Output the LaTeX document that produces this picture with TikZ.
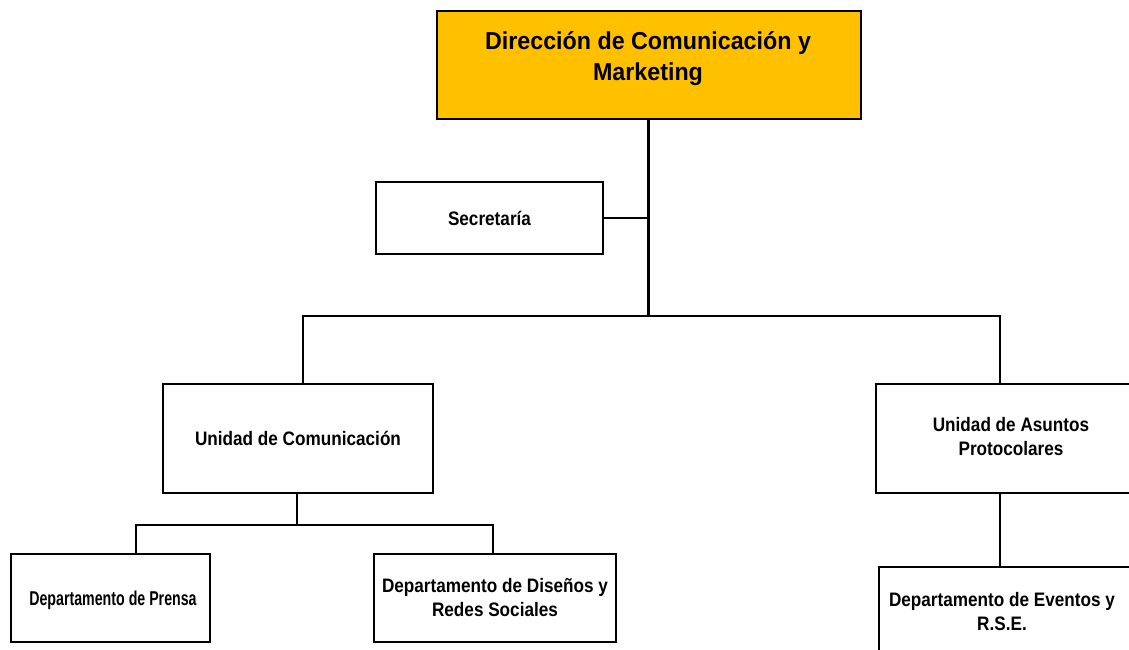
\documentclass[tikz,border=0pt]{standalone}
\usepackage{fontspec}
\setmainfont{Liberation Sans}
\newfontfamily\narrowfont[FakeStretch=0.88]{Liberation Sans}
\newfontfamily\narrowerfont[FakeStretch=0.71]{Liberation Sans}
\newfontfamily\topfont[FakeStretch=0.95]{Liberation Sans}
\definecolor{gold}{HTML}{FFC000}
\begin{document}
\begin{tikzpicture}[x=1pt,y=-1pt,
  box/.style={draw=black,line width=2pt,fill=white,inner sep=0pt,anchor=north west},
  txt/.style={font=\narrowfont\bfseries\fontsize{19.5}{24}\selectfont,align=center},
  conn/.style={line width=1.3pt},
  trunk/.style={line width=3pt}]
\useasboundingbox (0,0) rectangle (1129,649);
\clip (0,0) rectangle (1129,649);
% boxes
\node[box,fill=gold,minimum width=424pt,minimum height=108pt] (dir) at (436,10) {};
\node[font=\topfont\bfseries\fontsize{24.5}{31}\selectfont,align=center] (dirt) at (648,59) {Dirección de Comunicación y\\Marketing};
\node[box,minimum width=227pt,minimum height=72pt] (sec) at (375,181) {};
\node[txt] (sect) at (sec.center) {Secretaría};
\node[box,minimum width=270pt,minimum height=109pt] (ucom) at (162,383) {};
\node[txt] (ucomt) at (ucom.center) {Unidad de Comunicación};
\node[box,minimum width=280pt,minimum height=109pt] (uap) at (875,383) {};
\node[txt] (uapt) at (1011,437) {Unidad de Asuntos\\Protocolares};
\node[box,minimum width=199pt,minimum height=88pt] (pren) at (10,553) {};
\node[txt,font=\narrowerfont\bfseries\fontsize{20}{24}\selectfont] (prent) at (113,600) {Departamento de Prensa};
\node[box,minimum width=242pt,minimum height=88pt] (dis) at (373,553) {};
\node[txt] (dist) at (dis.center) {Departamento de Diseños y\\Redes Sociales};
\node[box,minimum width=280pt,minimum height=100pt] (evt) at (878,566) {};
\node[txt] (evtt) at (1002,612) {Departamento de Eventos y\\R.S.E.};
% connectors
\coordinate (tb) at (648,316);
\coordinate (hl) at (303,316);
\coordinate (hr) at (1000,316);
\coordinate (bl) at (136,525);
\coordinate (br) at (493,525);
\coordinate (bm) at (297,525);
\coordinate (ax) at (1000,492);
\draw[trunk] (dir.south -| tb) -- (tb);
\draw[conn] (sec.east) -- (sec.east -| tb);
\draw[conn] (hl |- ucom.north) -- (hl) -- (hr) -- (hr |- uap.north);
\draw[conn] (ucom.south -| bm) -- (bm);
\draw[conn] (bl |- pren.north) -- (bl) -- (br) -- (br |- dis.north);
\draw[conn] (ax) -- (ax |- evt.north);
\end{tikzpicture}
\end{document}
